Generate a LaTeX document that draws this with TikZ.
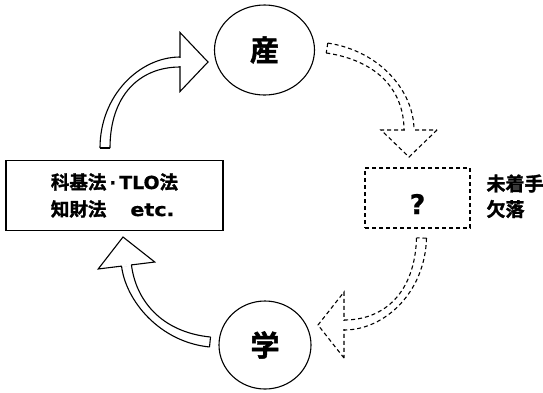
\documentclass[tikz,border=0pt]{standalone}
\usepackage{fontspec}
\usetikzlibrary{shapes.geometric,calc}
\newfontfamily\jp{Noto Sans CJK JP Bold}[FakeBold=1.6]
\newfontfamily\lat{DejaVu Sans Bold}[FakeBold=0.8]
\tikzset{
  ln/.style={line width=1.1pt},
  dsh/.style={dash pattern=on 4pt off 3pt},
  circ/.style={ellipse, draw, ln, inner sep=0pt},
}
% #1 options, #2 start, #3 c1, #4 c2, #5 base, #6 tip, #7 half width of head
\newcommand{\hollowarrow}[7]{%
  \draw[ln,#1,fill=white] ($(#5)!#7!90:(#6)$) -- (#6) -- ($(#5)!#7!-90:(#6)$) -- cycle;
  \draw[white,line width=8.9pt] ($(#5)!-1pt!(#6)$) -- ($(#5)!1.2pt!(#6)$);
  \draw[ln,#1] ($(#2)!5pt!90:(#3)$) .. controls ($(#3)!5pt!-90:(#2)$) and ($(#4)!5pt!90:(#5)$) .. ($(#5)!5pt!-90:(#4)$);
  \draw[ln,#1] ($(#2)!5pt!-90:(#3)$) .. controls ($(#3)!5pt!90:(#2)$) and ($(#4)!5pt!-90:(#5)$) .. ($(#5)!5pt!90:(#4)$);
  \draw[ln,#1] ($(#2)!5pt!90:(#3)$) -- ($(#2)!5pt!-90:(#3)$);
}
\begin{document}
\begin{tikzpicture}[x=1pt,y=-1pt]
\useasboundingbox (0,0) rectangle (543,392);

\node[circ, minimum width=100pt, minimum height=90pt] (san) at (264.5,50)
  {\jp\fontsize{29}{29}\selectfont 産};
\node[circ, minimum width=92pt, minimum height=88pt] (gaku) at (265,345)
  {\raisebox{-4pt}{\jp\fontsize{29}{29}\selectfont 学}};

\node[draw, ln, minimum width=217pt, minimum height=70pt, align=left,
      font=\jp\fontsize{18.5}{27}\selectfont] (law) at (114.5,195.5)
  {科基法{\lat\fontsize{18}{18}\selectfont\,·\,\scalebox{1.05}[1]{TLO}}法\\
   知財法\hspace{24pt}{\lat\fontsize{18}{18}\selectfont\scalebox{1.15}[1]{etc.}}};

\node[draw, ln, dsh, minimum width=105pt, minimum height=60pt] (q) at (417.5,198) {};
\node[font=\lat\fontsize{27}{27}\selectfont] (qm) at (417.5,204) {?};

\node[anchor=west, font=\jp\fontsize{19}{19}\selectfont] (miti) at (483,183.5) {未着手};
\node[anchor=west, font=\jp\fontsize{19}{19}\selectfont] (ketsu) at (483,209) {欠落};

% connector end points
\coordinate (s1) at (105,148);  \coordinate (a1) at (105,95);  \coordinate (b1) at (140,62);
\coordinate (e1) at (180,62);   \coordinate (t1) at (208,62);
\coordinate (s2) at (327,48);   \coordinate (a2) at (380,56);  \coordinate (b2) at (409,92);
\coordinate (e2) at (409,130);  \coordinate (t2) at (409,157);
\coordinate (s3) at (421.5,238);\coordinate (a3) at (420,292); \coordinate (b3) at (385,325);
\coordinate (e3) at (344,325);  \coordinate (t3) at (318,325);
\coordinate (s4) at (210,342);  \coordinate (a4) at (160,337); \coordinate (b4) at (130.7,300);
\coordinate (e4) at (126.5,265.5); \coordinate (t4) at (123,237);

\hollowarrow{}{s1}{a1}{b1}{e1}{t1}{29.5pt}
\hollowarrow{dsh}{s2}{a2}{b2}{e2}{t2}{28pt}
\hollowarrow{dsh}{s3}{a3}{b3}{e3}{t3}{33pt}
\hollowarrow{}{s4}{a4}{b4}{e4}{t4}{28.5pt}
\end{tikzpicture}
\end{document}
